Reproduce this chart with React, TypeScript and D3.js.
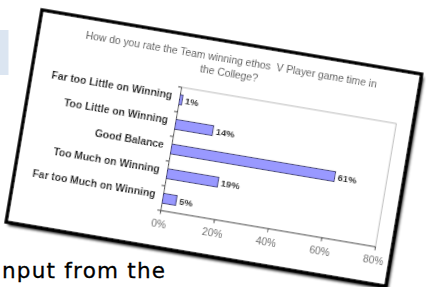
import React from "react";
import * as d3 from "d3";

// survey answers, top to bottom as in the chart
const categories = [
  "Far too Little on Winning",
  "Too Little on Winning",
  "Good Balance",
  "Too Much on Winning",
  "Far too Much on Winning",
];
const values = [1, 14, 61, 19, 5];
const xTicks = [0, 20, 40, 60, 80];
const titleLines = [
  "How do you rate the Team winning ethos  V Player game time in",
  "the College?",
];
const slideText = "nput from the";

const W = 426;
const H = 287;

// card (the pasted chart picture), tilted on the slide
const cardW = 385;
const cardH = 215;
const tilt = 9.6;

// plot area inside the card
const plot = { left: 150.6, top: 52.9, width: 217.7, height: 125 };

export default function App() {
  const x = d3.scaleLinear().domain([0, 80]).range([0, plot.width]);
  const y = d3
    .scaleBand<string>()
    .domain(categories)
    .range([0, plot.height])
    .paddingInner(0.6)
    .paddingOuter(0.3);
  const step = y.step();

  return (
    <svg
      width={W}
      height={H}
      style={{ position: "absolute", left: 0, top: 0, background: "#fff" }}
    >
      <defs>
        <filter id="shadow" x="-10%" y="-10%" width="120%" height="120%">
          <feGaussianBlur stdDeviation="1.6" />
        </filter>
        <filter id="soft" x="-5%" y="-5%" width="110%" height="110%">
          <feGaussianBlur stdDeviation="0.3" />
        </filter>
      </defs>

      {/* slide bits around the picture */}
      <rect x={0} y={30} width={8.5} height={45} fill="#dbe5f1" />
      <text
        x={2}
        y={278}
        fontFamily="'Comic Sans MS', 'DejaVu Sans', sans-serif"
        fontSize={21.5}
        fill="#000"
        stroke="#000"
        strokeWidth={0.3}
        textLength={163}
      >
        {slideText}
      </text>

      <g transform={`translate(42,10) rotate(${tilt})`} filter="url(#soft)">
        <rect x={2.5} y={3} width={cardW} height={cardH} fill="#000" filter="url(#shadow)" />
        <rect x={0} y={0} width={cardW} height={cardH} fill="#fff" stroke="#000" strokeWidth={3.4} />

        {titleLines.map((t, i) => (
          <text
            key={i}
            x={195}
            y={21 + i * 14}
            textAnchor="middle"
            fontFamily="'Liberation Sans', Arial, sans-serif"
            fontSize={10.4}
            fill="#555"
            style={{ whiteSpace: "pre" }}
          >
            {t}
          </text>
        ))}

        <g transform={`translate(${plot.left},${plot.top})`}>
          {/* frame */}
          <line x1={0} x2={plot.width} y1={0} y2={0} stroke="#aaa" strokeWidth={0.8} />
          <line x1={plot.width} x2={plot.width} y1={0} y2={plot.height} stroke="#aaa" strokeWidth={0.8} />
          <line x1={0} x2={0} y1={0} y2={plot.height} stroke="#444" strokeWidth={1} />
          <line x1={0} x2={plot.width} y1={plot.height} y2={plot.height} stroke="#444" strokeWidth={1} />

          {/* category ticks */}
          {d3.range(categories.length + 1).map((i) => (
            <line key={i} x1={-3.5} x2={0} y1={i * step} y2={i * step} stroke="#444" strokeWidth={1} />
          ))}

          {/* value ticks */}
          {xTicks.map((t) => (
            <g key={t}>
              <line x1={x(t)} x2={x(t)} y1={plot.height} y2={plot.height + 3.5} stroke="#444" strokeWidth={1} />
              <text
                x={x(t)}
                y={plot.height + 17}
                textAnchor="middle"
                fontFamily="'Liberation Sans', Arial, sans-serif"
                fontSize={10.2}
                fill="#666"
              >
                {t}%
              </text>
            </g>
          ))}

          {categories.map((c, i) => {
            const yc = (y(c) ?? 0) + y.bandwidth() / 2;
            return (
              <g key={c}>
                <text
                  x={-8}
                  y={yc + 0.5}
                  textAnchor="end"
                  fontFamily="'Liberation Sans', Arial, sans-serif"
                  fontWeight="bold"
                  fontSize={10.4}
                  fill="#222"
                >
                  {c}
                </text>
                <rect
                  x={0}
                  y={y(c)}
                  width={x(values[i])}
                  height={y.bandwidth()}
                  fill="#9999ff"
                  stroke="#333366"
                  strokeWidth={0.9}
                />
                <text
                  x={x(values[i]) + 3}
                  y={yc}
                  dominantBaseline="central"
                  fontFamily="'Liberation Sans', Arial, sans-serif"
                  fontWeight="bold"
                  fontSize={9.5}
                  fill="#222"
                >
                  {values[i]}%
                </text>
              </g>
            );
          })}
        </g>
      </g>
    </svg>
  );
}
